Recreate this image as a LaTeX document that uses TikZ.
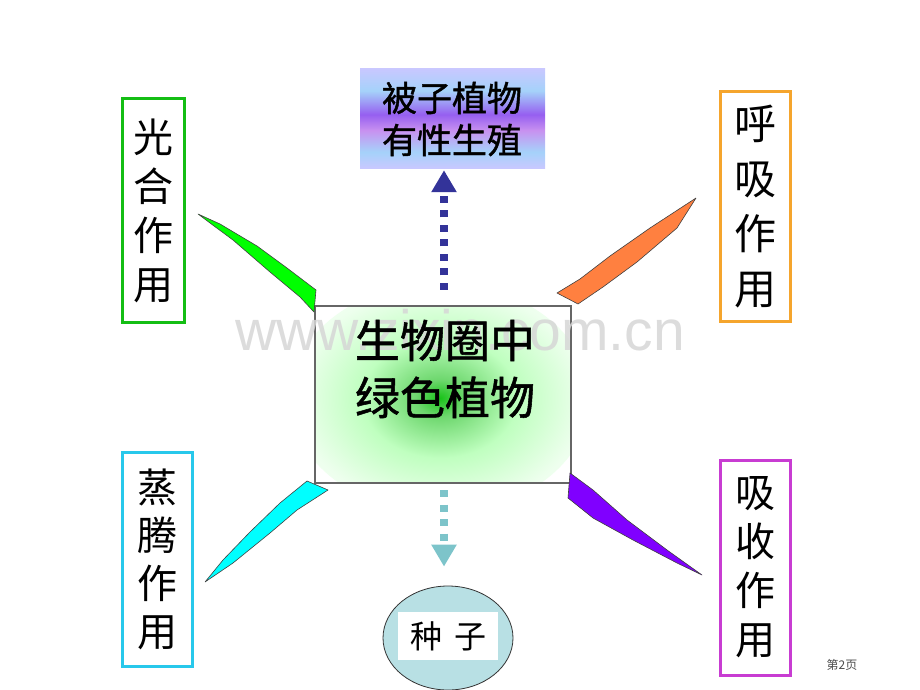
\documentclass[tikz,border=0pt]{standalone}
\usepackage{fontspec}
\setmainfont{Noto Sans CJK SC}
\newfontfamily\boldcjk[FakeBold=1.2]{Noto Sans CJK SC}
\newfontfamily\wmfont{Liberation Sans}
\usetikzlibrary{arrows.meta,shapes.geometric}
\definecolor{gcore}{RGB}{25,195,25}
\definecolor{gmid}{RGB}{110,215,110}
\definecolor{tlav}{RGB}{200,200,255}
\definecolor{tblue}{RGB}{165,210,250}
\definecolor{tpurp}{RGB}{150,95,240}
\definecolor{tpink}{RGB}{200,145,240}
\definecolor{arrblue}{RGB}{51,51,153}
\definecolor{arrteal}{RGB}{125,196,202}
\definecolor{seedfill}{RGB}{184,224,228}
\definecolor{bgreen}{RGB}{20,190,20}
\definecolor{borange}{RGB}{245,165,45}
\definecolor{bcyan}{RGB}{40,200,235}
\definecolor{bviolet}{RGB}{200,60,210}
\definecolor{wgreen}{RGB}{0,255,0}
\definecolor{worange}{RGB}{255,128,64}
\definecolor{wcyan}{RGB}{0,255,255}
\definecolor{wviolet}{RGB}{128,0,255}
\pgfdeclareverticalshading{topgrad}{100bp}{color(0bp)=(tlav); color(25bp)=(tlav); color(33bp)=(tblue); color(44bp)=(tpink); color(52bp)=(tpurp); color(64bp)=(tblue); color(75bp)=(tlav); color(100bp)=(tlav)}
\pgfdeclareradialshading{ctrglow}{\pgfpoint{0bp}{0bp}}{color(0bp)=(gcore); color(4bp)=(gmid); color(13bp)=(green!25); color(24bp)=(green!7); color(34bp)=(white); color(50bp)=(white)}
\tikzset{
  sidebox/.style={draw=#1, line width=3pt, inner sep=0pt, font=\fontsize{40}{49}\selectfont, align=center},
  wedge/.style={fill=#1, draw=black!75, line width=0.6pt, line join=round},
  dotarrow/.style={draw=#1, line width=7.5pt, dash pattern=on 7pt off 7.5pt,
     -{Triangle[length=22pt,width=24pt,fill=#1]}}
}
\begin{document}
\begin{tikzpicture}[x=1pt,y=-1pt]
\useasboundingbox (0,0) rectangle (920,690);
% top box
\node[minimum width=185pt, minimum height=99pt, inner sep=0pt, shading=topgrad] (top) at (452.5,118.5) {};
\node[font=\boldcjk\fontsize{35}{42}\selectfont, align=center] (toptext) at (452,119) {被子植物\\有性生殖};
% centre box
\node[fill=white, minimum width=256pt, minimum height=177pt, inner sep=0pt] (ctr) at (443,394.5) {};
\begin{scope}
\clip (316,307) rectangle (570,482);
\shade[shading=ctrglow] (440,398) ellipse (150 and 115);
\end{scope}
\node[draw=black!60, line width=1.2pt, minimum width=256pt, minimum height=177pt, inner sep=0pt] (ctrframe) at (ctr.center) {};
\node[text=black!16, font=\wmfont\fontsize{57}{60}\selectfont, opacity=0.85] (wm) at (460,330) {www.zixin.com.cn};
\node[font=\boldcjk\fontsize{45}{57}\selectfont, align=center] (ctrtext) at (445,369) {生物圈中\\绿色植物};
% arrows
\draw[dotarrow=arrblue, shorten <=16pt, shorten >=2pt] ([xshift=1pt]ctr.north) -- ([xshift=1pt]ctr.north |- top.south);
% seed
\node[ellipse, draw=black!80, line width=0.8pt, fill=seedfill, minimum width=130pt, minimum height=104pt] (seed) at (448,638) {};
\node[fill=white, minimum width=100pt, minimum height=48pt, inner sep=0pt, font=\fontsize{32}{36}\selectfont] (seedtext) at (448,636) {种\hspace{12pt}子};
\draw[dotarrow=arrteal, shorten <=7pt, shorten >=19pt] ([xshift=1pt]ctr.south) -- ([xshift=1pt]ctr.south |- seed.north);
% side boxes
\node[sidebox=bgreen, minimum width=62pt, minimum height=223pt] (ps) at (153,210.5) {光\\合\\作\\用};
\node[sidebox=borange, minimum width=70pt, minimum height=229pt, font=\fontsize{42}{55}\selectfont] (resp) at (755,206.5) {呼\\吸\\作\\用};
\node[sidebox=bcyan, minimum width=70pt, minimum height=214pt, font=\fontsize{40}{48}\selectfont] (trans) at (157,559) {蒸\\腾\\作\\用};
\node[sidebox=bviolet, minimum width=70pt, minimum height=215pt, font=\fontsize{40}{49}\selectfont] (abs) at (755,567.5) {吸\\收\\作\\用};
% wedges
\path[wedge=wgreen] (198,214) -- (220,224) -- (257,246) -- (287,268) -- (316,290) -- (314,312) -- (300,297) -- (270,272) -- (233,240) -- (210,223) -- cycle;
\path[wedge=worange] (696,198) -- (650,228) -- (610,256) -- (580,279) -- (557,293) -- (578,304) -- (603,287) -- (637,262) -- (677,228) -- cycle;
\path[wedge=wcyan] (307,481) -- (328,490) -- (297,510) -- (270,533) -- (233,563) -- (205,582) -- (223,560) -- (250,532) -- (280,503) -- cycle;
\path[wedge=wviolet] (570,473) -- (593,490) -- (627,520) -- (667,550) -- (702,575) -- (677,563) -- (633,540) -- (593,518) -- (568,498) -- cycle;
% page number
\node[text=black!70, font=\fontsize{12}{14}\selectfont] (page) at (842,665) {第2页};
\end{tikzpicture}
\end{document}
